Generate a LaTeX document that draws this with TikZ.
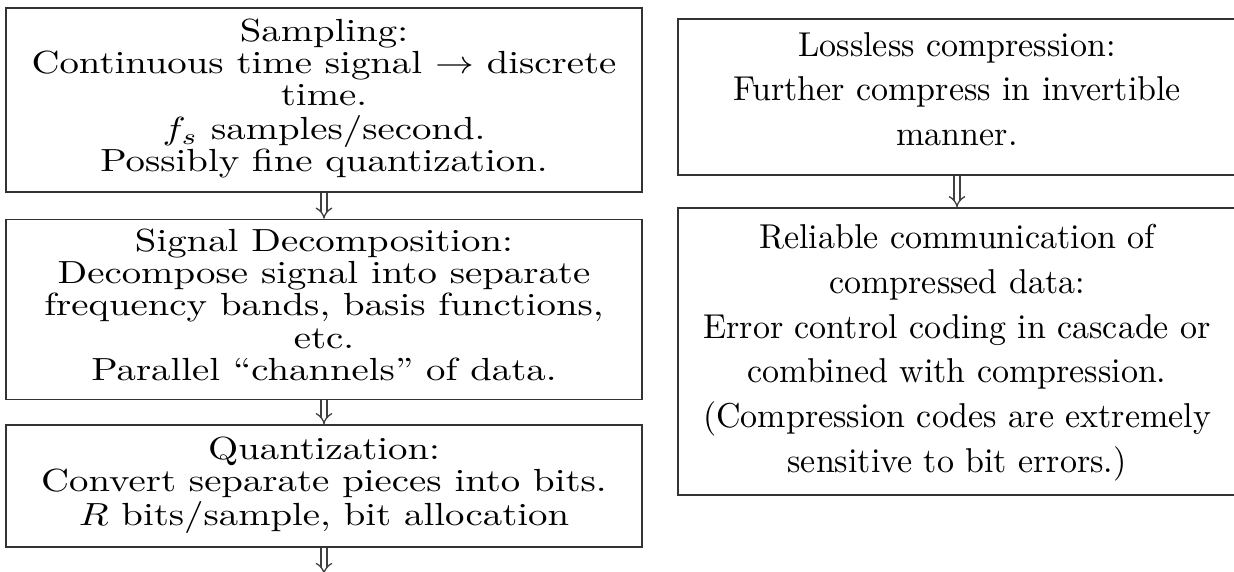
\documentclass[tikz,border=0pt]{standalone}
\usepackage{fontspec}
\usepackage{graphicx}
\usetikzlibrary{arrows.meta}
\newcommand{\lefttext}[1]{\scalebox{3.88}[3.2]{\fontsize{10}{10.1}\selectfont\begin{tabular}{@{}c@{}}#1\end{tabular}}}
\newcommand{\righttext}[1]{\scalebox{3.4}[3.45]{\fontsize{10}{13}\selectfont\begin{tabular}{@{}c@{}}#1\end{tabular}}}
\tikzset{
  box/.style={draw=black!80, line width=1.6pt, inner sep=0pt, anchor=center},
  conn/.style={draw=black!75, line width=1.3pt, double distance=4.5pt, -{Implies[length=9pt, width=21pt]}},
}
\begin{document}
\begin{tikzpicture}[x=1pt,y=-1pt]
\useasboundingbox (0,0) rectangle (1234,571);
\fill[white] (0,0) rectangle (1234,571);
% left column
\node[box, minimum width=636pt, minimum height=184pt] (s1) at (324,100)
  {\lefttext{Sampling:\\ Continuous time signal $\rightarrow$ discrete\\ time.\\ $f_s$ samples/second.\\ Possibly fine quantization.}};
\node[box, minimum width=636pt, minimum height=180pt] (s2) at (324,309.5)
  {\lefttext{Signal Decomposition:\\ Decompose signal into separate\\ frequency bands, basis functions,\\ etc.\\ Parallel “channels” of data.}};
\node[box, minimum width=636pt, minimum height=122pt] (s3) at (324,486)
  {\lefttext{Quantization:\\ Convert separate pieces into bits.\\ $R$ bits/sample, bit allocation}};
\coordinate (send) at (324,574);
% right column
\node[box, minimum width=558pt, minimum height=156pt] (r1) at (957,97)
  {\righttext{Lossless compression:\\ Further compress in invertible\\ manner.\rule[-6.8pt]{0pt}{0pt}}};
\node[box, minimum width=558pt, minimum height=287pt] (r2) at (957,351.5)
  {\righttext{Reliable communication of\\ compressed data:\\ Error control coding in cascade or\\ combined with compression.\\ (Compression codes are extremely\\ sensitive to bit errors.)}};
% connectors
\draw[conn] (s1.south) -- (s2.north);
\draw[conn] (s2.south) -- (s3.north);
\draw[conn] (s3.south) -- (send);
\draw[conn] (r1.south) -- (r2.north);
\end{tikzpicture}
\end{document}
